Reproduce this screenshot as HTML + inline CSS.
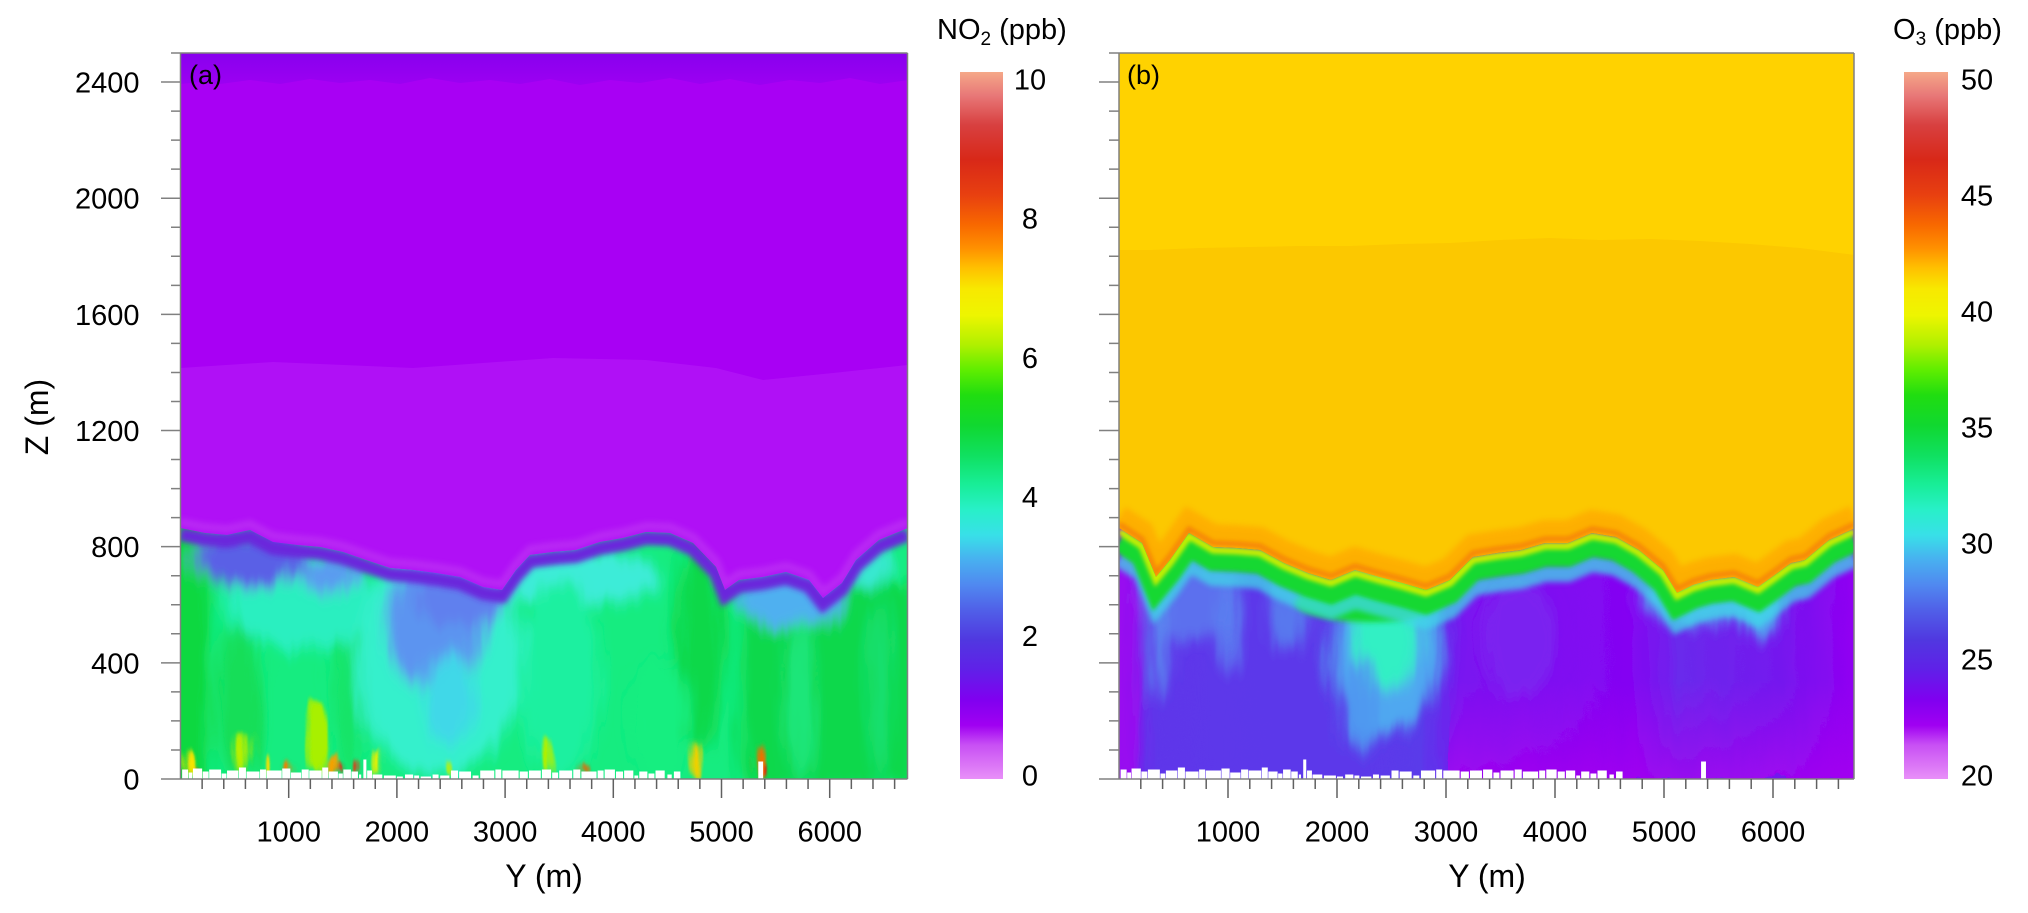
<!DOCTYPE html>
<html><head><meta charset="utf-8"><style>
html,body{margin:0;padding:0;background:#fff;}
svg{display:block;}
text{font-family:"Liberation Sans",Arial,sans-serif;fill:#000;}
</style></head><body>
<svg width="2028" height="913" viewBox="0 0 2028 913" xmlns="http://www.w3.org/2000/svg">
<defs>
 <linearGradient id="cmap" x1="0" y1="0" x2="0" y2="1">
  <stop offset="0" stop-color="#F5A888"/><stop offset="0.033" stop-color="#E87878"/>
  <stop offset="0.075" stop-color="#D84040"/><stop offset="0.124" stop-color="#D82818"/>
  <stop offset="0.174" stop-color="#E84010"/><stop offset="0.216" stop-color="#F86800"/>
  <stop offset="0.249" stop-color="#FF9000"/><stop offset="0.277" stop-color="#FFC000"/>
  <stop offset="0.306" stop-color="#F8E800"/><stop offset="0.344" stop-color="#EEF500"/>
  <stop offset="0.386" stop-color="#B0F000"/><stop offset="0.421" stop-color="#60EE00"/>
  <stop offset="0.457" stop-color="#20DD10"/><stop offset="0.5" stop-color="#10D830"/>
  <stop offset="0.542" stop-color="#10E060"/><stop offset="0.584" stop-color="#18EE98"/>
  <stop offset="0.619" stop-color="#28F0C8"/><stop offset="0.655" stop-color="#38E0E8"/>
  <stop offset="0.69" stop-color="#48B0F0"/><stop offset="0.726" stop-color="#5088F0"/>
  <stop offset="0.761" stop-color="#5060E8"/><stop offset="0.803" stop-color="#5038E0"/>
  <stop offset="0.846" stop-color="#6020E8"/><stop offset="0.888" stop-color="#8000F0"/>
  <stop offset="0.924" stop-color="#A000F2"/><stop offset="0.952" stop-color="#C850F4"/>
  <stop offset="1" stop-color="#E890F8"/>
 </linearGradient>
 <linearGradient id="topband" x1="0" y1="0" x2="0" y2="1">
  <stop offset="0" stop-color="#8800EE"/><stop offset="1" stop-color="#9C00F2"/>
 </linearGradient>
 <linearGradient id="rbase" x1="1119" y1="0" x2="1854" y2="0" gradientUnits="userSpaceOnUse">
  <stop offset="0" stop-color="#9010F0"/><stop offset="0.03" stop-color="#5E36EA"/>
  <stop offset="0.42" stop-color="#5A3AEA"/><stop offset="0.47" stop-color="#7A14F0"/>
  <stop offset="0.7" stop-color="#8404F2"/><stop offset="0.76" stop-color="#6A2AEC"/>
  <stop offset="0.9" stop-color="#7418EE"/><stop offset="1" stop-color="#9000F2"/>
 </linearGradient>
 <linearGradient id="vfade" x1="0" y1="0" x2="0" y2="1">
  <stop offset="0" stop-color="#A400F0" stop-opacity="0"/><stop offset="1" stop-color="#A800F0" stop-opacity="0.75"/>
 </linearGradient>
 <filter id="turb" x="0" y="0" width="2028" height="913" filterUnits="userSpaceOnUse">
  <feTurbulence type="fractalNoise" baseFrequency="0.06 0.01" numOctaves="3" seed="3" result="n"/>
  <feDisplacementMap in="SourceGraphic" in2="n" scale="20" xChannelSelector="R" yChannelSelector="G"/>
 </filter>
 <filter id="b7" x="0" y="0" width="2028" height="913" filterUnits="userSpaceOnUse"><feGaussianBlur stdDeviation="7"/></filter>
 <filter id="b3" x="0" y="0" width="2028" height="913" filterUnits="userSpaceOnUse"><feGaussianBlur stdDeviation="3"/></filter>
 <filter id="b2" x="0" y="0" width="2028" height="913" filterUnits="userSpaceOnUse"><feGaussianBlur stdDeviation="2"/></filter>
 <clipPath id="cpL"><rect x="180.5" y="53" width="727" height="726"/></clipPath>
 <clipPath id="cpR"><rect x="1119" y="53" width="735" height="726"/></clipPath>
 <clipPath id="mlL"><path d="M180,528 L205,533 L227,535 L250,530 L273,542 L297,545 L320,547 L343,552 L366,560 L390,568 L413,570 L436,573 L460,577 L483,587 L502,590 L516,570 L530,555 L553,552 L576,550 L600,542 L623,538 L646,532 L670,533 L693,543 L716,567 L725,590 L739,580 L763,577 L786,572 L809,580 L823,598 L842,583 L856,560 L879,540 L908,528 L908,779 L180,779 Z"/></clipPath>
 <clipPath id="mlR"><path d="M1119,528 L1142,543 L1156,577 L1170,560 L1189,533 L1213,547 L1237,548 L1260,550 L1284,563 L1308,573 L1331,580 L1355,570 L1379,577 L1402,583 L1426,590 L1450,580 L1473,557 L1497,553 L1521,550 L1545,543 L1568,543 L1592,533 L1616,537 L1639,550 L1663,570 L1677,593 L1693,585 L1710,580 L1734,577 L1758,587 L1772,577 L1791,563 L1805,560 L1829,540 L1855,528 L1855,779 L1119,779 Z"/></clipPath>
 <path id="bl" d="M180,528 L205,533 L227,535 L250,530 L273,542 L297,545 L320,547 L343,552 L366,560 L390,568 L413,570 L436,573 L460,577 L483,587 L502,590 L516,570 L530,555 L553,552 L576,550 L600,542 L623,538 L646,532 L670,533 L693,543 L716,567 L725,590 L739,580 L763,577 L786,572 L809,580 L823,598 L842,583 L856,560 L879,540 L908,528"/>
 <path id="br" d="M1119,528 L1142,543 L1156,577 L1170,560 L1189,533 L1213,547 L1237,548 L1260,550 L1284,563 L1308,573 L1331,580 L1355,570 L1379,577 L1402,583 L1426,590 L1450,580 L1473,557 L1497,553 L1521,550 L1545,543 L1568,543 L1592,533 L1616,537 L1639,550 L1663,570 L1677,593 L1693,585 L1710,580 L1734,577 L1758,587 L1772,577 L1791,563 L1805,560 L1829,540 L1855,528"/>
 <g id="bld" fill="#fff">
  <rect x="15" y="-9" width="55" height="9"/><rect x="75" y="-6" width="35" height="6"/>
  <rect x="115" y="-10" width="85" height="10"/><rect x="205" y="-7" width="55" height="7"/>
  <rect x="265" y="-9" width="110" height="9"/><rect x="380" y="-5" width="45" height="5"/>
  <rect x="430" y="-8" width="105" height="8"/><rect x="540" y="-11" width="65" height="11"/>
  <rect x="610" y="-7" width="120" height="7"/><rect x="735" y="-9" width="55" height="9"/>
  <rect x="795" y="-8" width="140" height="8"/><rect x="940" y="-10" width="75" height="10"/>
  <rect x="1020" y="-6" width="95" height="6"/><rect x="1120" y="-9" width="65" height="9"/>
  <rect x="1190" y="-8" width="115" height="8"/><rect x="1310" y="-11" width="55" height="11"/>
  <rect x="1370" y="-7" width="85" height="7"/><rect x="1460" y="-5" width="40" height="5"/>
  <rect x="1505" y="-9" width="70" height="9"/><rect x="1580" y="-7" width="60" height="7"/>
  <rect x="1650" y="-4" width="20" height="4"/><rect x="1690" y="-19" width="28" height="19"/>
  <rect x="1725" y="-8" width="45" height="8"/><rect x="1775" y="-4" width="90" height="4"/>
  <rect x="1880" y="-3" width="110" height="3"/><rect x="2000" y="-2" width="55" height="2"/>
  <rect x="2075" y="-4" width="75" height="4"/><rect x="2160" y="-3" width="45" height="3"/>
  <rect x="2220" y="-2" width="95" height="2"/><rect x="2330" y="-4" width="55" height="4"/>
  <rect x="2400" y="-3" width="85" height="3"/><rect x="2500" y="-8" width="65" height="8"/>
  <rect x="2575" y="-7" width="110" height="7"/><rect x="2700" y="-3" width="55" height="3"/>
  <rect x="2770" y="-8" width="130" height="8"/><rect x="2910" y="-9" width="55" height="9"/>
  <rect x="2975" y="-8" width="150" height="8"/><rect x="3135" y="-7" width="75" height="7"/>
  <rect x="3220" y="-8" width="110" height="8"/><rect x="3340" y="-9" width="85" height="9"/>
  <rect x="3435" y="-6" width="55" height="6"/><rect x="3500" y="-8" width="120" height="8"/>
  <rect x="3630" y="-9" width="65" height="9"/><rect x="3705" y="-7" width="140" height="7"/>
  <rect x="3855" y="-8" width="55" height="8"/><rect x="3920" y="-9" width="95" height="9"/>
  <rect x="4025" y="-7" width="65" height="7"/><rect x="4100" y="-8" width="85" height="8"/>
  <rect x="4195" y="-3" width="35" height="3"/><rect x="4240" y="-7" width="75" height="7"/>
  <rect x="4325" y="-5" width="55" height="5"/><rect x="4390" y="-8" width="85" height="8"/>
  <rect x="4500" y="-4" width="40" height="4"/><rect x="4560" y="-7" width="60" height="7"/>
  <rect x="5340" y="-17" width="45" height="17"/>
 </g>
</defs>

<!-- ================= LEFT PANEL ================= -->
<g clip-path="url(#cpL)">
 <rect x="180" y="53" width="728" height="726" fill="#A800F4"/>
 <path d="M180,53 H908 V80 L880,84 L850,78 L820,83 L790,80 L760,85 L730,79 L700,84 L670,78 L640,83 L610,80 L580,85 L550,79 L520,84 L490,80 L460,83 L430,78 L400,84 L370,80 L340,83 L310,79 L280,84 L250,80 L220,84 L200,82 L180,84 Z" fill="url(#topband)"/>
 <path d="M180,368 L273,362 L413,368 L553,358 L646,360 L716,368 L763,380 L833,373 L908,365 V779 H180 Z" fill="#B010F6"/>
 <use href="#bl" fill="none" stroke="#C448F2" stroke-width="8" opacity="0.45" transform="translate(0,-6)" filter="url(#b3)"/>
 <g clip-path="url(#mlL)">
  <g filter="url(#turb)">
   <rect x="170" y="500" width="750" height="290" fill="#14EC80"/>
   <g filter="url(#b7)">
    <rect x="160" y="520" width="50" height="270" fill="#10D840"/>
    <ellipse cx="240" cy="700" rx="22" ry="80" fill="#12DE58"/>
    <ellipse cx="350" cy="690" rx="18" ry="90" fill="#16E468"/>
    <ellipse cx="300" cy="600" rx="75" ry="50" fill="#2CEFC0"/>
    <ellipse cx="250" cy="560" rx="55" ry="28" fill="#5A60E6"/>
    <ellipse cx="330" cy="575" rx="30" ry="18" fill="#5A9CF0"/>
    <ellipse cx="440" cy="660" rx="85" ry="115" fill="#34F0CC"/>
    <ellipse cx="435" cy="625" rx="50" ry="65" fill="#5C94F0"/>
    <ellipse cx="460" cy="600" rx="45" ry="28" fill="#6080EE"/>
    <ellipse cx="450" cy="700" rx="25" ry="45" fill="#40D8E8"/>
    <ellipse cx="575" cy="578" rx="85" ry="28" fill="#3CECD8"/>
    <ellipse cx="560" cy="680" rx="40" ry="100" fill="#1CF0A0"/>
    <ellipse cx="700" cy="640" rx="24" ry="110" fill="#10D848"/>
    <rect x="740" y="585" width="180" height="200" fill="#10D84C"/>
    <ellipse cx="790" cy="600" rx="55" ry="28" fill="#50B0F0"/>
    <ellipse cx="860" cy="565" rx="35" ry="22" fill="#38E8D0"/>
    <ellipse cx="800" cy="700" rx="14" ry="80" fill="#1AE67A"/>
    <ellipse cx="880" cy="690" rx="12" ry="90" fill="#16E070"/>
    <ellipse cx="660" cy="720" rx="30" ry="60" fill="#14EE80"/>
   </g>
   <g filter="url(#b2)">
    <ellipse cx="316" cy="738" rx="9" ry="38" fill="#A8F000"/>
    <ellipse cx="243" cy="752" rx="5" ry="22" fill="#B8F000"/>
    <ellipse cx="190" cy="762" rx="5" ry="13" fill="#F8E400"/>
    <ellipse cx="198" cy="770" rx="4" ry="5" fill="#F04010"/>
    <ellipse cx="267" cy="763" rx="4" ry="11" fill="#F4E000"/>
    <ellipse cx="290" cy="770" rx="5" ry="6" fill="#F08000"/>
    <ellipse cx="330" cy="765" rx="5" ry="10" fill="#F8A000"/>
    <ellipse cx="338" cy="770" rx="3" ry="5" fill="#E02010"/>
    <ellipse cx="362" cy="767" rx="3" ry="7" fill="#E83010"/>
    <ellipse cx="380" cy="763" rx="4" ry="12" fill="#E8F000"/>
    <ellipse cx="448" cy="767" rx="3" ry="8" fill="#C0F000"/>
    <ellipse cx="545" cy="758" rx="5" ry="18" fill="#B0F000"/>
    <ellipse cx="697" cy="760" rx="5" ry="18" fill="#F0D000"/>
    <ellipse cx="757" cy="760" rx="5" ry="17" fill="#F07000"/>
    <ellipse cx="762" cy="769" rx="3" ry="7" fill="#E02010"/>
    <ellipse cx="585" cy="771" rx="3" ry="5" fill="#F06000"/>
   </g>
  </g>
  <use href="#bl" fill="none" stroke="#6A26DC" stroke-width="14" transform="translate(0,6)" filter="url(#b3)"/>
 </g>
 <use href="#bld" transform="translate(180.5,778.5) scale(0.1082,1)"/>
</g>

<!-- ================= RIGHT PANEL ================= -->
<g clip-path="url(#cpR)">
 <rect x="1119" y="53" width="736" height="726" fill="#FCC800"/>
 <path d="M1119,53 H1855 V255 L1800,248 L1750,244 L1700,241 L1650,239 L1600,240 L1550,238 L1500,240 L1450,243 L1400,244 L1350,246 L1300,246 L1250,247 L1200,248 L1150,250 L1119,250 Z" fill="#FFD200"/>
 <use href="#br" fill="none" stroke="#FFA000" stroke-width="24" opacity="0.6" transform="translate(0,-11)" filter="url(#b3)"/>
 <use href="#br" fill="none" stroke="#F06010" stroke-width="5" opacity="0.55" transform="translate(0,-4)" filter="url(#b2)"/>
 <g clip-path="url(#mlR)">
  <g filter="url(#turb)">
   <rect x="1110" y="500" width="760" height="290" fill="url(#rbase)"/>
   <g filter="url(#b7)">
    <ellipse cx="1190" cy="600" rx="45" ry="40" fill="#5C70EE"/>
    <ellipse cx="1160" cy="640" rx="8" ry="60" fill="#5A8CF0"/>
    <ellipse cx="1230" cy="620" rx="10" ry="50" fill="#5A80F0"/>
    <ellipse cx="1290" cy="610" rx="20" ry="40" fill="#5878EE"/>
    <ellipse cx="1385" cy="650" rx="55" ry="85" fill="#50A8F0"/>
    <ellipse cx="1385" cy="635" rx="32" ry="55" fill="#30F0C4"/>
    <ellipse cx="1360" cy="705" rx="16" ry="45" fill="#5098F0"/>
    <ellipse cx="1700" cy="600" rx="60" ry="25" fill="#5A90F0"/>
    <ellipse cx="1760" cy="610" rx="20" ry="30" fill="#50B0F0"/>
    <ellipse cx="1520" cy="640" rx="40" ry="60" fill="#7A20F0"/>
    <rect x="1110" y="520" width="30" height="270" fill="#9810F0"/>
   </g>
   <rect x="1450" y="680" width="410" height="100" fill="url(#vfade)"/>
  </g>
  <ellipse cx="1370" cy="602" rx="75" ry="20" fill="#18D830" filter="url(#b3)"/>
  <use href="#br" fill="none" stroke="#40D8E8" stroke-width="18" opacity="0.75" transform="translate(0,30)" filter="url(#b3)"/>
  <use href="#br" fill="none" stroke="#18D830" stroke-width="22" transform="translate(0,13)" filter="url(#b2)"/>
  <use href="#br" fill="none" stroke="#C8F000" stroke-width="7" transform="translate(0,3)" filter="url(#b2)"/>
 </g>
 <use href="#bld" transform="translate(1119,778.5) scale(0.109,1)"/>
</g>

<!-- ================= FRAMES & TICKS ================= -->
<g fill="none" stroke="#808080" stroke-width="1.5">
 <path d="M180.5,53 V779 M907.5,53 V779 M171,53 H907.5 M161,779 H907.5"/>
 <path d="M1119,53 V779 M1854,53 V779 M1109,53 H1854 M1099,779 H1854"/>
 <path d="M171,749.96h9M171,720.92h9M171,691.88h9M171,633.8h9M171,604.76h9M171,575.72h9M171,517.64h9M171,488.6h9M171,459.56h9M171,401.48h9M171,372.44h9M171,343.4h9M171,285.32h9M171,256.28h9M171,227.24h9M171,169.16h9M171,140.12h9M171,111.08h9"/>
 <path d="M161,662.84h19M161,546.68h19M161,430.52h19M161,314.36h19M161,198.2h19M161,82.04h19"/>
 <path d="M1109,749.96h10M1109,720.92h10M1109,691.88h10M1109,633.8h10M1109,604.76h10M1109,575.72h10M1109,517.64h10M1109,488.6h10M1109,459.56h10M1109,401.48h10M1109,372.44h10M1109,343.4h10M1109,285.32h10M1109,256.28h10M1109,227.24h10M1109,169.16h10M1109,140.12h10M1109,111.08h10"/>
 <path d="M1099,662.84h20M1099,546.68h20M1099,430.52h20M1099,314.36h20M1099,198.2h20M1099,82.04h20"/>
</g>
<g fill="none" stroke="#606060" stroke-width="1.5">
 <path d="M202.14,779v10M223.78,779v10M245.42,779v10M267.06,779v10M310.34,779v10M331.98,779v10M353.62,779v10M375.26,779v10M418.54,779v10M440.18,779v10M461.82,779v10M483.46,779v10M526.74,779v10M548.38,779v10M570.02,779v10M591.66,779v10M634.94,779v10M656.58,779v10M678.22,779v10M699.86,779v10M743.14,779v10M764.78,779v10M786.42,779v10M808.06,779v10M851.34,779v10M872.98,779v10M894.62,779v10"/>
 <path d="M288.7,779v19M396.9,779v19M505.1,779v19M613.3,779v19M721.5,779v19M829.7,779v19"/>
 <path d="M1140.8,779v10M1162.6,779v10M1184.4,779v10M1206.2,779v10M1249.8,779v10M1271.6,779v10M1293.4,779v10M1315.2,779v10M1358.8,779v10M1380.6,779v10M1402.4,779v10M1424.2,779v10M1467.8,779v10M1489.6,779v10M1511.4,779v10M1533.2,779v10M1576.8,779v10M1598.6,779v10M1620.4,779v10M1642.2,779v10M1685.8,779v10M1707.6,779v10M1729.4,779v10M1751.2,779v10M1794.8,779v10M1816.6,779v10M1838.4,779v10"/>
 <path d="M1228,779v19M1337,779v19M1446,779v19M1555,779v19M1664,779v19M1773,779v19"/>
</g>

<!-- ================= COLORBARS ================= -->
<rect x="960" y="72" width="43" height="707" fill="url(#cmap)"/>
<rect x="1904" y="72" width="44" height="707" fill="url(#cmap)"/>

<!-- ================= TEXT ================= -->
<g font-size="29" text-anchor="end">
 <text x="139.5" y="789.5">0</text>
 <text x="139.5" y="673.3">400</text>
 <text x="139.5" y="557.2">800</text>
 <text x="139.5" y="441">1200</text>
 <text x="139.5" y="324.9">1600</text>
 <text x="139.5" y="208.7">2000</text>
 <text x="139.5" y="92.5">2400</text>
</g>
<g font-size="29" text-anchor="middle">
 <text x="288.7" y="841.5">1000</text>
 <text x="396.9" y="841.5">2000</text>
 <text x="505.1" y="841.5">3000</text>
 <text x="613.3" y="841.5">4000</text>
 <text x="721.5" y="841.5">5000</text>
 <text x="829.7" y="841.5">6000</text>
 <text x="1228" y="841.5">1000</text>
 <text x="1337" y="841.5">2000</text>
 <text x="1446" y="841.5">3000</text>
 <text x="1555" y="841.5">4000</text>
 <text x="1664" y="841.5">5000</text>
 <text x="1773" y="841.5">6000</text>
 <text x="1030" y="89.4">10</text>
 <text x="1030" y="228.6">8</text>
 <text x="1030" y="367.8">6</text>
 <text x="1030" y="507">4</text>
 <text x="1030" y="646.2">2</text>
 <text x="1030" y="785.4">0</text>
 <text x="1977" y="89.4">50</text>
 <text x="1977" y="205.4">45</text>
 <text x="1977" y="321.4">40</text>
 <text x="1977" y="437.4">35</text>
 <text x="1977" y="553.4">30</text>
 <text x="1977" y="669.4">25</text>
 <text x="1977" y="785.4">20</text>
</g>
<g font-size="32" text-anchor="middle">
 <text x="544" y="887">Y (m)</text>
 <text x="1487" y="887">Y (m)</text>
 <text transform="translate(48,417) rotate(-90)" x="0" y="0">Z (m)</text>
</g>
<text x="189" y="84" font-size="27">(a)</text>
<text x="1127" y="84" font-size="27">(b)</text>
<text x="937" y="39" font-size="29">NO<tspan font-size="19" dy="6">2</tspan><tspan dy="-6"> (ppb)</tspan></text>
<text x="1893" y="39" font-size="29">O<tspan font-size="19" dy="6">3</tspan><tspan dy="-6"> (ppb)</tspan></text>
</svg>
</body></html>
